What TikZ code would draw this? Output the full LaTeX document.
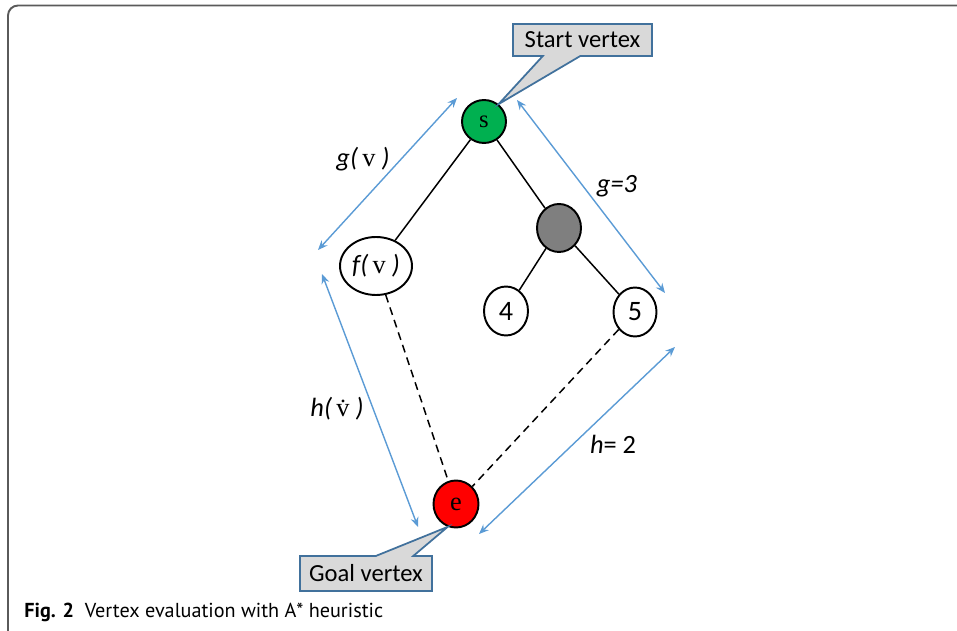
\documentclass[tikz,border=0pt]{standalone}
\usepackage{fontspec}
\setmainfont{Liberation Serif}
\setsansfont{Carlito}
\newfontfamily\capfont{PT Sans}
\usetikzlibrary{arrows.meta,shapes.geometric,shapes.callouts}
\definecolor{vgreen}{HTML}{00B050}
\definecolor{vgray}{HTML}{7F7F7F}
\definecolor{vred}{HTML}{FF0000}
\definecolor{dimblue}{HTML}{5B9BD5}
\definecolor{cborder}{HTML}{41719C}
\definecolor{cfill}{HTML}{D9D9D9}
\definecolor{framegray}{HTML}{5A5A5A}
\newcommand{\vtx}{{\rmfamily\upshape v}}
\tikzset{
  vertex/.style={ellipse,draw,line width=1.1pt,inner sep=0pt,minimum width=0.88cm,minimum height=0.96cm},
  tag/.style={rectangle callout,draw=cborder,fill=cfill,line width=1pt,inner sep=0pt,
    callout pointer width=0.75cm,font=\sffamily\fontsize{14}{16}\selectfont},
  dim/.style={dimblue,line width=0.8pt,{Stealth[length=5.5pt,width=4.5pt]}-{Stealth[length=5.5pt,width=4.5pt]}},
  lbl/.style={font=\sffamily\itshape\fontsize{15}{17}\selectfont,inner sep=0pt}
}
\begin{document}
\begin{tikzpicture}[x=0.02cm,y=-0.02cm]
\useasboundingbox (0,0) rectangle (957,631);
\draw[framegray,line width=1.1pt,rounded corners=0.2cm] (8,650) -- (8,5.5) -- (970,5.5);
\node[vertex,fill=vgreen,minimum height=0.86cm,font=\fontsize{14}{16}\selectfont] (s) at (484,121.5) {s};
\node[vertex,fill=vgray] (m) at (559,228) {};
\node[vertex,minimum width=1.44cm,minimum height=1.16cm,lbl] (fv) at (376,266) {f(\,\vtx\ )};
\node[vertex,minimum height=0.98cm,font=\sffamily\fontsize{16}{18}\selectfont] (n4) at (506,311) {4};
\node[vertex,minimum width=0.86cm,minimum height=0.98cm,font=\sffamily\fontsize{16}{18}\selectfont] (n5) at (635,312) {5};
\node[vertex,fill=vred,minimum width=0.9cm,minimum height=0.94cm,font=\fontsize{15}{17}\selectfont] (e) at (456,504) {e};
\draw[line width=0.85pt] (s) -- (fv);
\draw[line width=0.85pt] (s) -- (m);
\draw[line width=0.85pt] (m) -- (n4);
\draw[line width=0.85pt] (m) -- (n5);
\draw[line width=0.85pt,dash pattern=on 4.5pt off 3pt] (fv) -- (e);
\draw[line width=0.85pt,dash pattern=on 4.5pt off 3pt] (n5) -- (e);
\coordinate (gl1) at (318,250);
\coordinate (gl2) at (457,98);
\coordinate (hl1) at (322,274);
\coordinate (hl2) at (418,527);
\coordinate (gr1) at (517,100);
\coordinate (gr2) at (665,293);
\coordinate (hr1) at (675,347);
\coordinate (hr2) at (479,534);
\draw[dim] (gl1) -- (gl2);
\draw[dim] (hl1) -- (hl2);
\draw[dim] (gr1) -- (gr2);
\draw[dim] (hr1) -- (hr2);
\node[lbl] (gv) at (363,159) {g(\,\vtx\ )};
\node[lbl] (hv) at (337,409) {h(\,{\rmfamily\upshape\.v}\ )};
\node[lbl,font=\sffamily\itshape\fontsize{15}{17}\selectfont] (g3) at (617,186) {g=3};
\node[lbl,font=\sffamily\fontsize{15}{17}\selectfont] (h2) at (613,444) {\textit{h}= 2};
\node[tag,minimum width=2.78cm,minimum height=0.64cm,callout absolute pointer={(s.50)}] (start) at (582.5,40) {Start vertex};
\node[tag,minimum width=2.64cm,minimum height=0.7cm,callout absolute pointer={(e.-110)}] (goal) at (366,573.5) {Goal vertex};
\node[anchor=base west,inner sep=0pt,font=\capfont\fontsize{11.5}{13}\selectfont] (cap) at (24,617) {\textbf{Fig. 2}\ \ Vertex evaluation with A* heuristic};
\end{tikzpicture}
\end{document}
